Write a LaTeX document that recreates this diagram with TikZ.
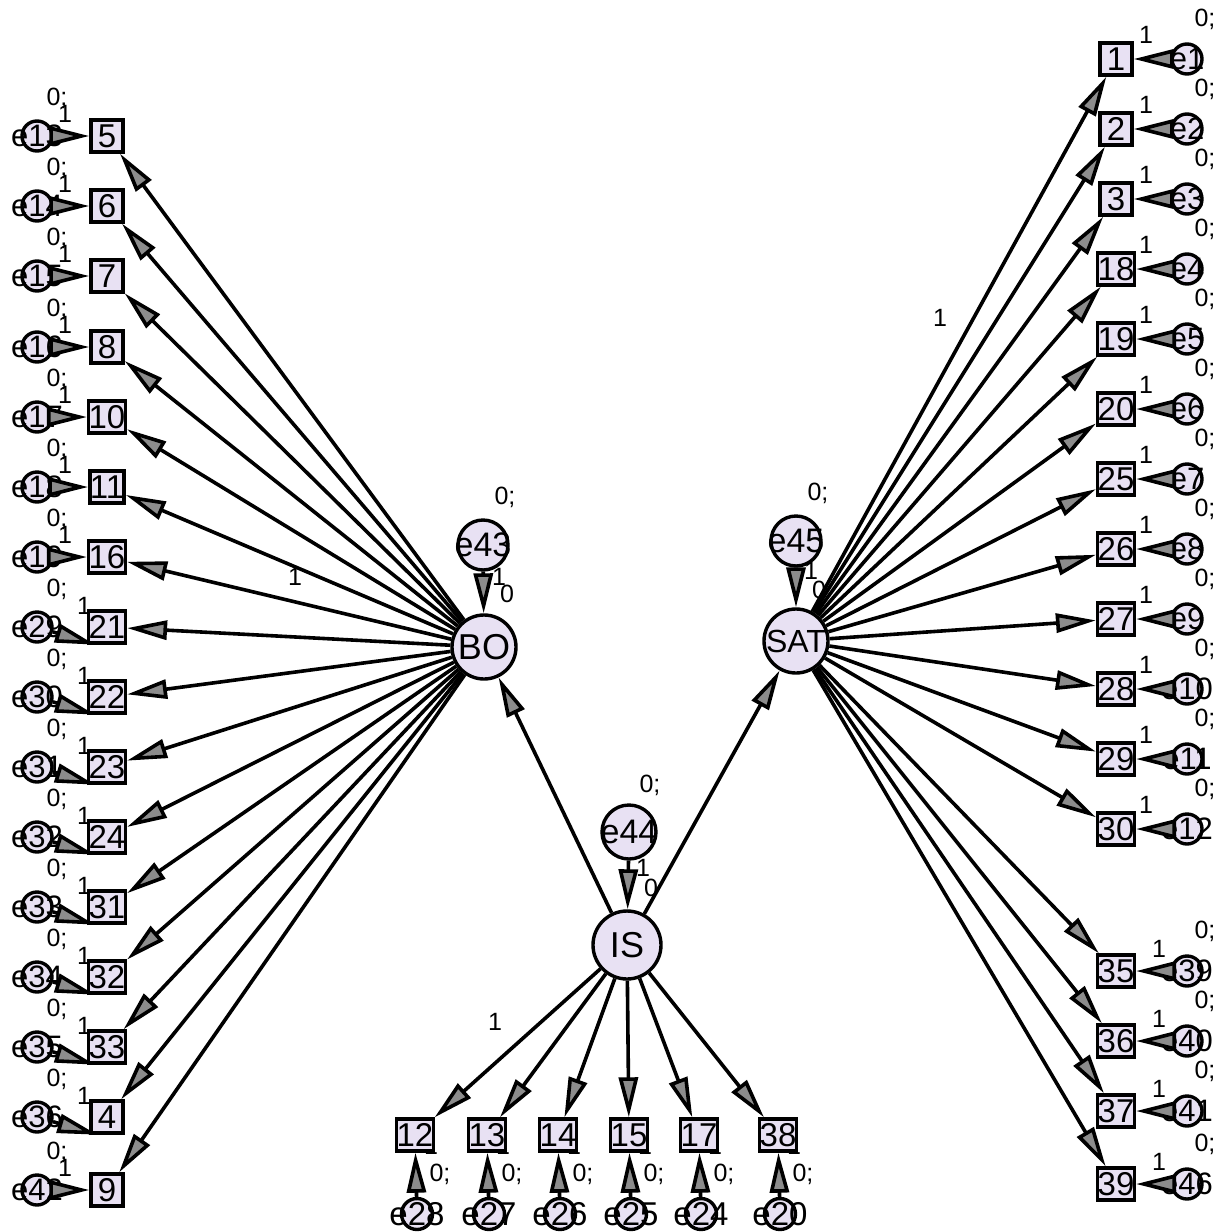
\documentclass[tikz,border=0pt]{standalone}
\usepackage{fontspec}
\setmainfont{Liberation Sans}
\usetikzlibrary{arrows.meta}
\definecolor{nf}{RGB}{232,225,243}
\begin{document}
\begin{tikzpicture}[x=1pt,y=-1pt,
 obs/.style={draw,line width=3.4pt,fill=nf,minimum size=32pt,inner sep=0pt,font=\fontsize{33}{33}\selectfont},
 err/.style={circle,draw,line width=3.4pt,fill=nf,minimum size=30pt,inner sep=0pt},
 elab/.style={inner sep=0pt,font=\fontsize{31}{31}\selectfont},
 belab/.style={inner sep=0pt,font=\fontsize{33}{33}\selectfont},
 lat/.style={circle,draw,line width=3.4pt,fill=nf,minimum size=64pt,inner sep=0pt,font=\fontsize{36}{36}\selectfont},
 dist/.style={circle,draw,line width=3.4pt,fill=nf,minimum size=50pt,inner sep=0pt},
 dlab/.style={inner sep=0pt,font=\fontsize{34}{34}\selectfont},
 plab/.style={inner sep=0pt,font=\fontsize{25}{25}\selectfont},
 arr/.style={line width=3.6pt,-{Triangle[length=40pt,width=19pt,fill=black!45]}}]
\fill[white] (0,0) rectangle (1220,1232);
\useasboundingbox (0,0) rectangle (1220,1232);

% ---------- path labels (drawn first) ----------
\foreach \y in {136,206,276,347,417,487,557,1190}{
  \node[plab] (z0l\y) at (57,\y-38) {0;};
  \node[plab] (z1l\y) at (65,\y-22) {1};
}
\foreach \y in {627,697,767,837,907,977,1047,1117}{
  \node[plab] (z0m\y) at (57,\y-38) {0;};
  \node[plab] (z1m\y) at (84,\y-21) {1};
}
\foreach \y in {59,129,199,269,339,409,479,549,619,689,759,829}{
  \node[plab] (z0r\y) at (1205,\y-40) {0;};
  \node[plab] (z1r\y) at (1146,\y-24) {1};
}
\foreach \y in {971,1041,1111,1184}{
  \node[plab] (z0s\y) at (1205,\y-40) {0;};
  \node[plab] (z1s\y) at (1159,\y-22) {1};
}
\foreach \x in {415,487,558,629,699,778}{
  \node[plab] (z1b\x) at (\x+16,1146) {1};
  \node[plab] (z0b\x) at (\x+25,1174) {0;};
}
\node[plab] (lbo0) at (505,497) {0;};
\node[plab] (lbo1) at (499,577) {1};
\node[plab] (lbo2) at (507,594) {0};
\node[plab] (lsa0) at (818,493) {0;};
\node[plab] (lsa1) at (811,571) {1};
\node[plab] (lsa2) at (819,590) {0};
\node[plab] (lis0) at (650,785) {0;};
\node[plab] (lis1) at (643,868) {1};
\node[plab] (lis2) at (651,888) {0};
\node[plab] (wbo) at (295,577) {1};
\node[plab] (wsa) at (940,318) {1};
\node[plab] (wis) at (495,1022) {1};

% ---------- latent variables ----------
\node[lat] (BO) at (484,647) {BO};
\node[lat,font=\fontsize{32}{32}\selectfont] (SAT) at (796,641) {SAT};
\node[lat,minimum size=68pt] (IS) at (627,945) {IS};
\node[dist,label={[dlab]center:e43}] (e43) at (483,545) {};
\node[dist,label={[dlab]center:e45}] (e45) at (796,541) {};
\node[dist,minimum size=54pt,label={[dlab]center:e44}] (e44) at (629,832) {};

% ---------- left column ----------
\foreach \n/\m/\y in {5/13/136,6/14/206,7/15/276,8/16/347,10/17/417,11/18/487,16/19/557,9/42/1190}{
  \node[obs] (b\n) at (107,\y) {\n};
  \node[err,label={[elab]center:e\m}] (e\m) at (37,\y) {};
  \draw[arr] (e\m) -- (b\n);
  \draw[arr] (BO) -- (b\n);
}
\foreach \n/\m/\y in {21/29/627,22/30/697,23/31/767,24/32/837,31/33/907,32/34/977,33/35/1047,4/36/1117}{
  \node[obs] (b\n) at (107,\y) {\n};
  \node[err,label={[elab]center:e\m}] (e\m) at (37,\y) {};
  \draw[arr] (BO) -- (b\n);
  \draw[arr] (e\m) -- ([xshift=8pt]b\n.south west);
}

% ---------- right column ----------
\foreach \n/\m/\y in {1/1/59,2/2/129,3/3/199,18/4/269,19/5/339,20/6/409,25/7/479,26/8/549,27/9/619,28/10/689,29/11/759,30/12/829,35/39/971,36/40/1041,37/41/1111,39/46/1184}{
  \node[obs] (b\n) at (1116,\y) {\n};
  \node[err,label={[elab]center:e\m}] (e\m) at (1187,\y) {};
  \draw[arr] (e\m) -- (b\n);
  \draw[arr] (SAT) -- (b\n);
}

% ---------- bottom row ----------
\foreach \n/\m/\x in {12/28/415,13/27/487,14/26/558,15/25/629,17/24/699,38/20/778}{
  \node[obs] (b\n) at (\x,1135) {\n};
  \node[err,minimum size=31pt,label={[belab]center:e\m}] (e\m) at (\x+2,1214) {};
  \draw[arr] (e\m) -- (b\n);
  \draw[arr] (IS) -- (b\n);
}

% ---------- structural paths ----------
\draw[arr] (IS) -- (BO);
\draw[arr] (IS) -- (SAT);
\draw[arr] (e43) -- (BO);
\draw[arr] (e45) -- (SAT);
\draw[arr] (e44) -- (IS);
\end{tikzpicture}
\end{document}
